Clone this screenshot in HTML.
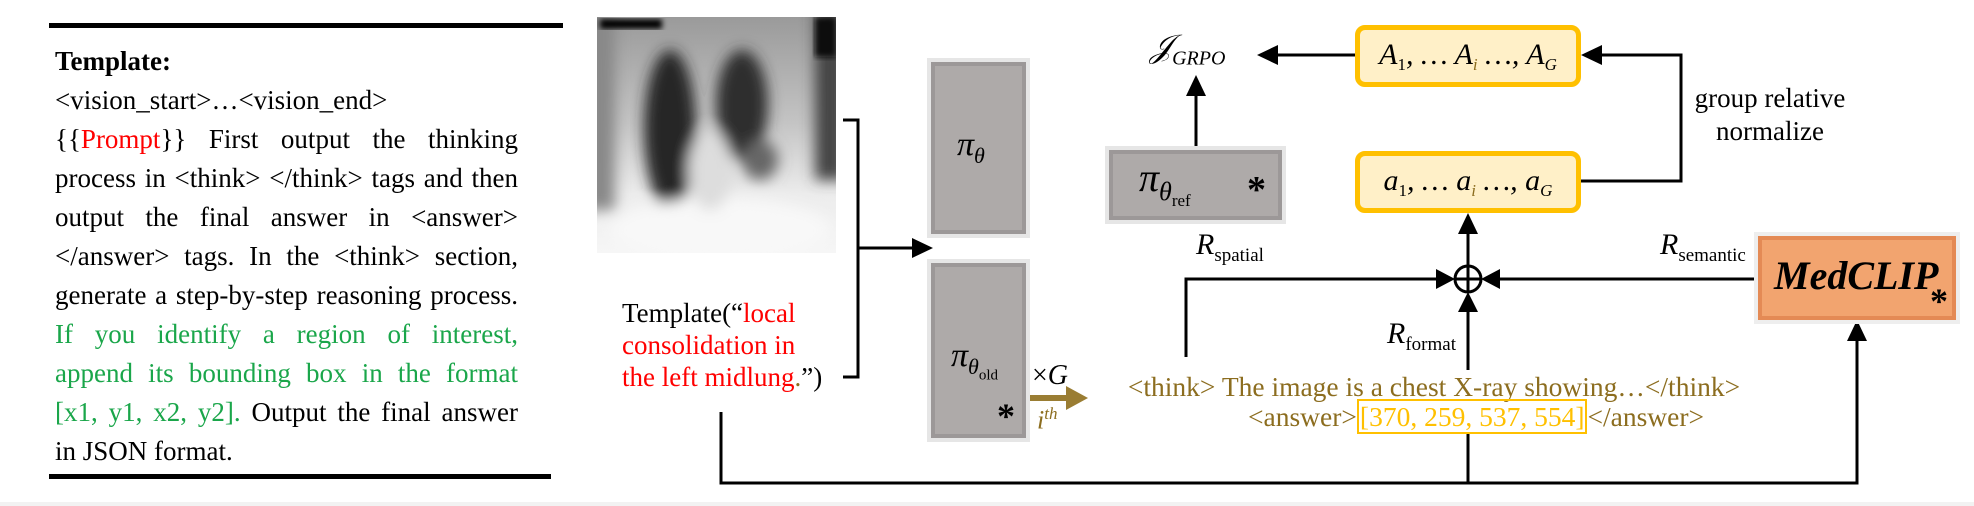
<!DOCTYPE html>
<html><head><meta charset="utf-8">
<style>
html,body{margin:0;padding:0;background:#fff;}
#root{position:relative;width:1974px;height:506px;overflow:hidden;background:#fff;font-family:"Liberation Serif",serif;color:#000;}
.abs{position:absolute;}
.ln{position:absolute;left:55px;width:463px;font-size:27px;line-height:32px;white-space:nowrap;}
.j{text-align:justify;text-align-last:justify;}
.red{color:#f00;} .grn{color:#1aa64a;}
.gbox{position:absolute;background:#aeaaa9;border:4px solid #9c9898;box-shadow:0 0 0 4px #e6e6e6;box-sizing:border-box;}
.ybox{position:absolute;background:#fff0c8;border:5px solid #ffc000;border-radius:10px;box-sizing:border-box;font-style:italic;font-size:30px;text-align:center;line-height:50px;white-space:nowrap;}
.ybox sub{font-size:17px;vertical-align:-6px;line-height:0;}
.gold{color:#8c6d1f;}
</style></head>
<body>
<div id="root">
<svg class="abs" style="left:0;top:0" width="1974" height="506">
<defs>
<linearGradient id="xbg" x1="0" y1="0" x2="0" y2="1"><stop offset="0" stop-color="#9a9a9a"/><stop offset="0.45" stop-color="#c4c4c4"/><stop offset="0.75" stop-color="#ececec"/><stop offset="1" stop-color="#f6f6f6"/></linearGradient>
<filter id="bl"><feGaussianBlur stdDeviation="7"/></filter>
<filter id="bl2"><feGaussianBlur stdDeviation="3"/></filter>
<clipPath id="xc"><rect x="597" y="17" width="239" height="236"/></clipPath>
</defs>
<rect x="49" y="23" width="514" height="5" fill="#000"/>
<rect x="49" y="474" width="502" height="5" fill="#000"/>
<g clip-path="url(#xc)">
<rect x="597" y="17" width="239" height="236" fill="url(#xbg)"/>
<g filter="url(#bl)">
<rect x="585" y="10" width="30" height="200" fill="#888"/>
<rect x="815" y="10" width="30" height="170" fill="#444"/>
<ellipse cx="670" cy="130" rx="26" ry="80" fill="#262626"/>
<ellipse cx="742" cy="105" rx="26" ry="55" fill="#2e2e2e"/>
<ellipse cx="760" cy="160" rx="18" ry="20" fill="#666"/>
<ellipse cx="720" cy="230" rx="110" ry="32" fill="#f8f8f8"/>
<ellipse cx="710" cy="170" rx="22" ry="40" fill="#ddd"/>
</g>
<rect x="600" y="19" width="62" height="10" fill="#000" filter="url(#bl2)"/>
<rect x="815" y="17" width="21" height="40" fill="#111" filter="url(#bl2)"/>
</g>
<path d="M843 120 H858 V377 H843 M858 248 H912" fill="none" stroke="#000" stroke-width="3"/>
<polygon points="912,238 933,248 912,258" fill="#000"/>
<path d="M721 412 V483 H1857 V341" fill="none" stroke="#000" stroke-width="3"/>
<polygon points="1847,341 1857,320 1867,341" fill="#000"/>
<path d="M1468 432 V483" stroke="#000" stroke-width="3"/>
<path d="M1196 152 V96" stroke="#000" stroke-width="3"/>
<polygon points="1186,96 1196,75 1206,96" fill="#000"/>
<path d="M1355 55 H1278" stroke="#000" stroke-width="3"/>
<polygon points="1278,45 1257,55 1278,65" fill="#000"/>
<path d="M1581 181 H1681 V55 H1602" fill="none" stroke="#000" stroke-width="3"/>
<polygon points="1602,45 1581,55 1602,65" fill="#000"/>
<circle cx="1468" cy="279" r="13" fill="#fff" stroke="#000" stroke-width="3"/>
<path d="M1455 279 H1481 M1468 266 V292" stroke="#000" stroke-width="3"/>
<path d="M1468 266 V234" stroke="#000" stroke-width="3"/>
<polygon points="1458,234 1468,213 1478,234" fill="#000"/>
<path d="M1186 357 V279 H1436" fill="none" stroke="#000" stroke-width="3"/>
<polygon points="1436,269 1455,279 1436,289" fill="#000"/>
<path d="M1758 279 H1500" stroke="#000" stroke-width="3"/>
<polygon points="1500,269 1481,279 1500,289" fill="#000"/>
<path d="M1468 370 V312" stroke="#000" stroke-width="3"/>
<polygon points="1458,312 1468,292 1478,312" fill="#000"/>
<path d="M1025 398 H1068" stroke="#9a7d33" stroke-width="6"/>
<polygon points="1066,386 1088,398 1066,410" fill="#9a7d33"/>
<rect x="0" y="502" width="1974" height="4" fill="#f2f2f2"/>
</svg>

<div>
<div class="ln" style="top:45px;font-weight:bold">Template:</div>
<div class="ln" style="top:84px">&lt;vision_start&gt;…&lt;vision_end&gt;</div>
<div class="ln j" style="top:123px">{{<span class="red">Prompt</span>}} First output the thinking</div>
<div class="ln j" style="top:162px">process in &lt;think&gt; &lt;/think&gt; tags and then</div>
<div class="ln j" style="top:201px">output the final answer in &lt;answer&gt;</div>
<div class="ln j" style="top:240px">&lt;/answer&gt; tags. In the &lt;think&gt; section,</div>
<div class="ln j" style="top:279px">generate a step-by-step reasoning process.</div>
<div class="ln j grn" style="top:318px">If you identify a region of interest,</div>
<div class="ln j grn" style="top:357px">append its bounding box in the format</div>
<div class="ln j" style="top:396px"><span class="grn">[x1, y1, x2, y2].</span> Output the final answer</div>
<div class="ln" style="top:435px">in JSON format.</div>
</div>

<div class="abs" style="left:622px;top:297px;font-size:27px;line-height:32px;white-space:nowrap">Template(“<span class="red">local</span><br><span class="red">consolidation in</span><br><span class="red">the left midlung</span><span class="gold">.</span>”)</div>

<div class="gbox" style="left:931px;top:62px;width:95px;height:172px">
<div class="abs" style="left:22px;top:60px;font-size:34px;font-style:italic">π<sub style="font-size:22px">θ</sub></div></div>
<div class="gbox" style="left:931px;top:263px;width:95px;height:175px">
<div class="abs" style="left:16px;top:70px;font-size:34px;font-style:italic">π<sub style="font-size:22px">θ<sub style="font-size:15px;font-style:normal">old</sub></sub></div>
<div class="abs" style="left:62px;top:128px;font-size:36px;font-weight:bold">*</div></div>
<div class="gbox" style="left:1109px;top:150px;width:173px;height:70px">
<div class="abs" style="left:26px;top:0px;font-size:40px;font-style:italic">π<sub style="font-size:26px">θ<sub style="font-size:17px;font-style:normal">ref</sub></sub></div>
<div class="abs" style="left:134px;top:14px;font-size:38px;font-weight:bold">*</div></div>

<div class="abs" style="left:1150px;top:28px;font-size:32px;font-style:italic">𝒥<sub style="font-size:20px">GRPO</sub></div>
<div class="ybox" style="left:1355px;top:25px;width:226px;height:62px">A<sub style="font-style:normal">1</sub>, … A<sub class="gold">i</sub> …, A<sub>G</sub></div>
<div class="ybox" style="left:1355px;top:151px;width:226px;height:62px">a<sub style="font-style:normal">1</sub>, … a<sub class="gold">i</sub> …, a<sub>G</sub></div>
<div class="abs" style="left:1680px;top:82px;width:180px;text-align:center;font-size:27px;line-height:33px">group relative<br>normalize</div>

<div class="abs" style="left:1196px;top:228px;font-size:30px;font-style:italic">R<sub style="font-size:19px;font-style:normal">spatial</sub></div>
<div class="abs" style="left:1387px;top:317px;font-size:30px;font-style:italic">R<sub style="font-size:19px;font-style:normal">format</sub></div>
<div class="abs" style="left:1660px;top:228px;font-size:30px;font-style:italic">R<sub style="font-size:19px;font-style:normal">semantic</sub></div>

<div class="abs" style="left:1758px;top:236px;width:198px;height:84px;background:#f2a46f;border:4px solid #e48a55;box-shadow:0 0 0 4px #eee;box-sizing:border-box">
<div class="abs" style="left:12px;top:12px;font-size:40px;font-style:italic;font-weight:bold">MedCLIP</div>
<div class="abs" style="left:168px;top:40px;font-size:36px;font-weight:bold">*</div></div>

<div class="abs" style="left:1032px;top:360px;font-size:28px;color:#000">×<i>G</i></div>
<div class="abs gold" style="left:1037px;top:404px;font-size:26px;font-style:italic">i<sup style="font-size:17px">th</sup></div>

<div class="abs gold" style="left:1110px;top:371px;width:648px;text-align:center;font-size:27.5px;white-space:nowrap">&lt;think&gt; The image is a chest X-ray showing…&lt;/think&gt;</div>
<div class="abs gold" style="left:1248px;top:401px;font-size:27.5px;white-space:nowrap">&lt;answer&gt;<span style="color:#ffc000;border:2px solid #ffc000;padding:0 1px">[370, 259, 537, 554]</span>&lt;/answer&gt;</div>
</div>
</body></html>
